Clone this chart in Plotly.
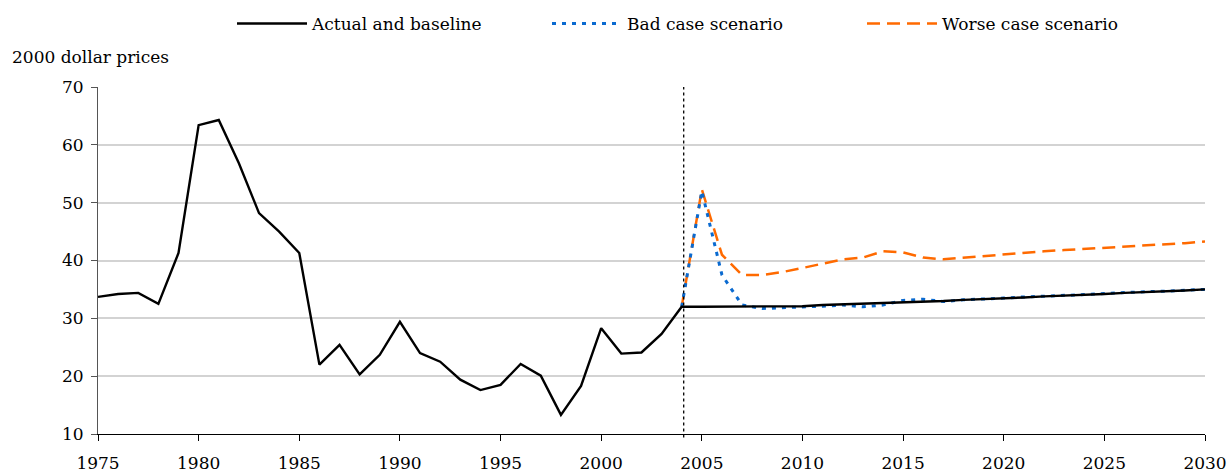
import plotly.graph_objects as go

actual_years = list(range(1975, 2005))
actual_vals = [33.7, 34.2, 34.4, 32.5, 41.3, 63.4, 64.3, 56.8, 48.2, 45.0,
               41.3, 22.0, 25.4, 20.3, 23.7, 29.4, 24.0, 22.5, 19.4, 17.6,
               18.5, 22.1, 20.1, 13.3, 18.3, 28.3, 23.9, 24.1, 27.3, 32.0]

proj_years = list(range(2004, 2031))
baseline_vals = [32.0, 32.0, 32.0, 32.0, 32.0, 32.0, 32.1, 32.3, 32.4, 32.5,
                 32.6, 32.7, 32.9, 33.0, 33.2, 33.3, 33.5, 33.6, 33.8, 33.9,
                 34.1, 34.2, 34.4, 34.5, 34.7, 34.8, 35.0]
bad_vals = [32.0, 52.0, 37.5, 32.3, 31.7, 31.8, 32.0, 32.1, 32.3, 32.0,
            32.3, 33.1, 33.3, 32.9, 33.2, 33.3, 33.5, 33.7, 33.8, 34.0,
            34.1, 34.3, 34.5, 34.6, 34.7, 34.9, 35.0]
worse_vals = [32.0, 52.3, 41.0, 37.5, 37.5, 38.0, 38.7, 39.5, 40.2, 40.5,
              41.6, 41.4, 40.5, 40.2, 40.5, 40.8, 41.1, 41.4, 41.6, 41.8,
              42.0, 42.2, 42.4, 42.5, 42.7, 43.0, 43.3]

full_years = actual_years + proj_years[1:]
full_vals = actual_vals + baseline_vals[1:]

x_ticks = list(range(1975, 2031, 5))
y_ticks = list(range(10, 71, 10))
divider_year = 2004.1

FONT = "DejaVu Serif"

fig = go.Figure()
fig.add_trace(go.Scatter(x=proj_years, y=worse_vals, mode="lines",
                         name="Worse case scenario",
                         line=dict(color="#ff6a00", width=2.5, dash="13px,7px")))
fig.add_trace(go.Scatter(x=proj_years, y=bad_vals, mode="lines",
                         name="Bad case scenario",
                         line=dict(color="#0a6ad0", width=3, dash="4px,6px")))
fig.add_trace(go.Scatter(x=full_years, y=full_vals, mode="lines",
                         name="Actual and baseline",
                         line=dict(color="black", width=2.4)))

fig.add_shape(type="line", xref="x", yref="paper", x0=divider_year, x1=divider_year,
              y0=-0.01, y1=1, line=dict(color="black", width=1.3, dash="dot"))

fig.add_annotation(text="2000 dollar prices", xref="paper", yref="paper",
                   x=-0.0795, y=1.0865, xanchor="left", yanchor="middle",
                   showarrow=False, font=dict(size=17, color="black", family=FONT))

fig.update_layout(
    width=1230, height=472,
    margin=dict(l=98, r=25, t=87, b=38, autoexpand=False),
    plot_bgcolor="white", paper_bgcolor="white",
    font=dict(family=FONT, size=16, color="black"),
    legend=dict(orientation="h", xref="container", yref="container",
                x=232 / 1230, y=1 - 24 / 472, xanchor="left", yanchor="middle",
                traceorder="reversed", itemwidth=70, entrywidth=230,
                font=dict(size=17, family=FONT),
                bgcolor="rgba(0,0,0,0)"),
    showlegend=True,
)
fig.update_xaxes(range=[1975, 2030], tickvals=x_ticks, ticks="outside", ticklen=6,
                 tickcolor="black", showline=True, linecolor="black", linewidth=1,
                 showgrid=False, zeroline=False, fixedrange=True,
                 ticklabelstandoff=8,
                 tickfont=dict(family=FONT, size=17))
fig.update_yaxes(range=[10, 70], tickvals=y_ticks, ticks="outside", ticklen=6,
                 tickcolor="#555", showline=True, linecolor="#555", linewidth=1,
                 showgrid=True, gridcolor="#d3d3d3", gridwidth=1.5, zeroline=False,
                 fixedrange=True, ticklabelstandoff=4,
                 tickfont=dict(family=FONT, size=17))

fig.write_html("out.html", config={"displayModeBar": False},
               post_script="document.body.style.margin='0';")
